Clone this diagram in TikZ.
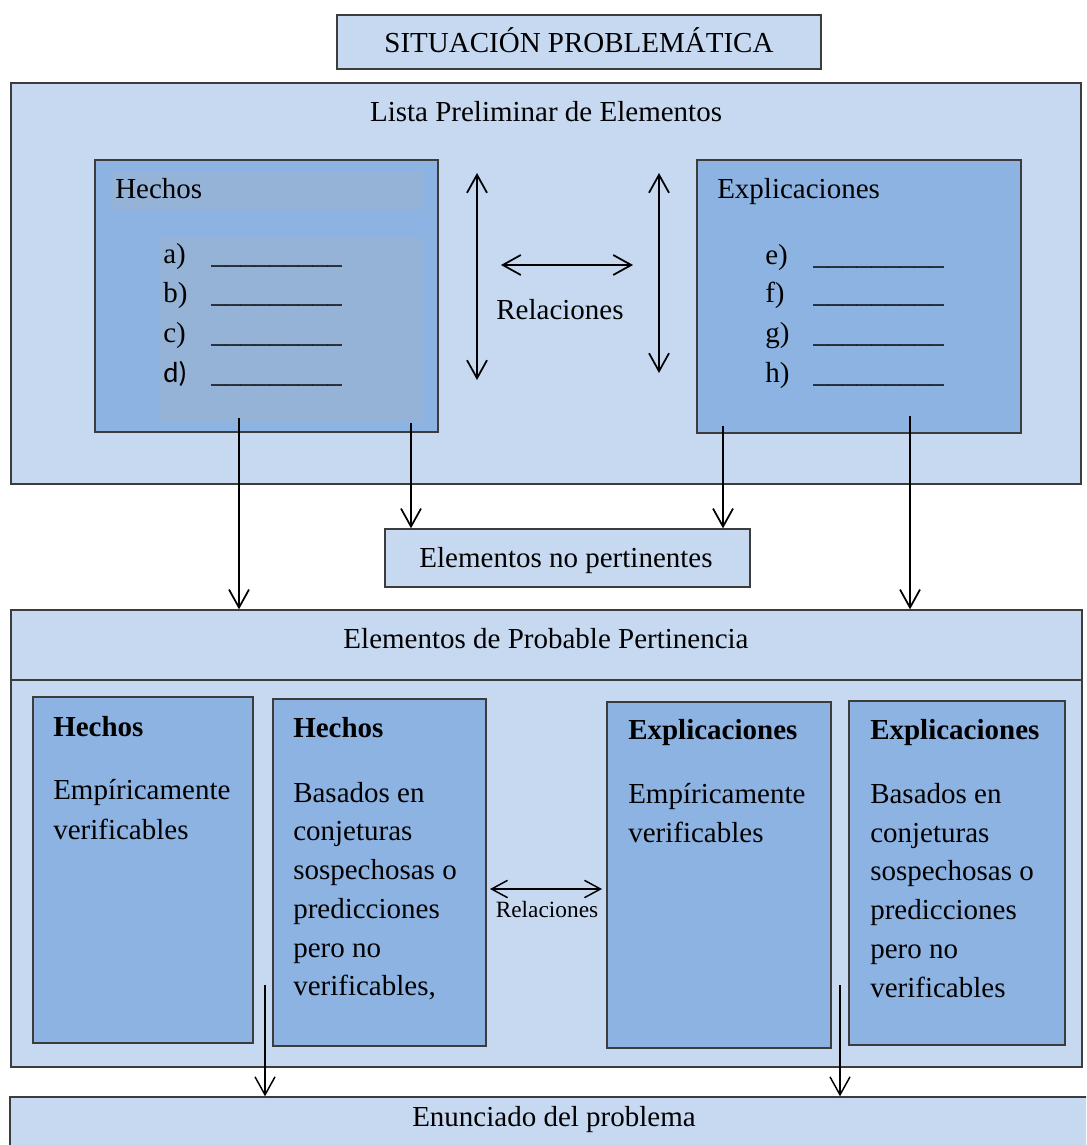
\documentclass[tikz,border=0pt]{standalone}
\usepackage{fontspec}
\setmainfont{Liberation Serif}
\newfontfamily\labelsans{Carlito}
\usetikzlibrary{arrows.meta,fit}

\definecolor{paleblue}{HTML}{C6D9F1}
\definecolor{midblue}{HTML}{8DB3E2}
\definecolor{greyblue}{HTML}{95B3D7}
\definecolor{edge}{HTML}{3C3C3C}

\tikzset{
  panel/.style={draw=edge, line width=1pt, fill=paleblue, inner sep=0pt},
  card/.style={draw=edge, line width=1pt, fill=midblue, inner sep=0pt},
  band/.style={fill=greyblue, inner sep=0pt},
  txt/.style={inner sep=0pt, font=\fontsize{21.75}{29.25}\selectfont},
  smalltxt/.style={inner sep=0pt, font=\fontsize{17.5}{21}\selectfont},
  barb/.tip={Straight Barb[length=13.5pt,width=15pt]},
  arr/.style={line width=1.3pt, -barb},
  darr/.style={line width=1.3pt, barb-barb},
  sarr/.style={line width=1.1pt, {Straight Barb[length=12pt,width=13pt]}-{Straight Barb[length=12pt,width=13pt]}},
}

\begin{document}
\begin{tikzpicture}[x=0.75pt,y=-0.75pt]
  \useasboundingbox (0,0) rectangle (1086,1145);
  \fill[white] (0,0) rectangle (1086,1145);
  \clip (0,0) rectangle (1086,1145);

  % ---- top title
  \node[panel, fit={(337,15) (821,69)}] (sit) {};
  \node[txt, anchor=base] (sittext) at (579,53) {SITUACIÓN PROBLEMÁTICA};

  % ---- preliminary list panel
  \node[panel, fit={(11,83) (1081,484)}] (lista) {};
  \node[txt, anchor=base] (listatext) at (546,122) {Lista Preliminar de Elementos};

  % facts card
  \node[card, fit={(95,160) (438,432)}] (hechos) {};
  \node[band, fit={(112,171) (423,210)}] (hband) {};
  \node[band, fit={(159,237) (423,422)}] (lband) {};
  \node[txt, anchor=base west] (htitle) at (115,198) {Hechos};
  \node[txt, anchor=base west] (la) at (163,263) {a)};
  \node[txt, anchor=base west] (lb) at (163,302) {b)};
  \node[txt, anchor=base west] (lc) at (163,342) {c)};
  \node[txt, anchor=base west] (ld) at (163,382) {\labelsans d)};
  \node[txt, anchor=base west] (ua) at (211,263) {\_\_\_\_\_\_\_\_\_};
  \node[txt, anchor=base west] (ub) at (211,302) {\_\_\_\_\_\_\_\_\_};
  \node[txt, anchor=base west] (uc) at (211,342) {\_\_\_\_\_\_\_\_\_};
  \node[txt, anchor=base west] (ud) at (211,382) {\_\_\_\_\_\_\_\_\_};

  % explanations card
  \node[card, fit={(697,160) (1021,433)}] (expl) {};
  \node[txt, anchor=base west] (etitle) at (717,198) {Explicaciones};
  \node[txt, anchor=base west] (le) at (765,264) {e)};
  \node[txt, anchor=base west] (lf) at (765,302) {f)};
  \node[txt, anchor=base west] (lg) at (765,342) {g)};
  \node[txt, anchor=base west] (lh) at (765,382) {h)};
  \node[txt, anchor=base west] (ue) at (813,264) {\_\_\_\_\_\_\_\_\_};
  \node[txt, anchor=base west] (uf) at (813,302) {\_\_\_\_\_\_\_\_\_};
  \node[txt, anchor=base west] (ug) at (813,342) {\_\_\_\_\_\_\_\_\_};
  \node[txt, anchor=base west] (uh) at (813,382) {\_\_\_\_\_\_\_\_\_};

  % relations between facts and explanations
  \coordinate (vl1) at (477,173);
  \coordinate (vl2) at (477,380);
  \coordinate (vr1) at (659,173);
  \coordinate (vr2) at (659,373);
  \coordinate (hr1) at (501,265);
  \coordinate (hr2) at (633,265);
  \draw[darr] (vl1) -- (vl2);
  \draw[darr] (vr1) -- (vr2);
  \draw[darr] (hr1) -- (hr2);
  \node[txt, anchor=base] (reltext) at (560,319) {Relaciones};

  % ---- not relevant elements
  \node[panel, fit={(385,529) (750,587)}] (nop) {};
  \node[txt, anchor=base] (noptext) at (566,567) {Elementos no pertinentes};

  % ---- probably relevant elements
  \node[panel, fit={(11,610) (1082,680)}] (epp) {};
  \node[txt, anchor=base] (epptext) at (546,648) {Elementos de Probable Pertinencia};
  \node[panel, fit={(11,680) (1082,1067)}] (eppbody) {};

  \node[card, fit={(33,697) (253,1043)}] (c1) {};
  \node[card, fit={(273,699) (486,1046)}] (c2) {};
  \node[card, fit={(607,702) (831,1048)}] (c3) {};
  \node[card, fit={(849,701) (1065,1045)}] (c4) {};

  \node[txt, anchor=base west, font=\fontsize{21.75}{29.25}\selectfont\bfseries] (c1t) at (53,736) {Hechos};
  \node[txt, anchor=base west] (c1a) at (53,799) {Empíricamente};
  \node[txt, anchor=base west] (c1b) at (53,839) {verificables};

  \node[txt, anchor=base west, font=\fontsize{21.75}{29.25}\selectfont\bfseries] (c2t) at (293,737) {Hechos};
  \node[txt, anchor=base west] (c2a) at (293,802) {Basados en};
  \node[txt, anchor=base west] (c2b) at (293,840) {conjeturas};
  \node[txt, anchor=base west] (c2c) at (293,879) {sospechosas o};
  \node[txt, anchor=base west] (c2d) at (293,918) {predicciones};
  \node[txt, anchor=base west] (c2e) at (293,957) {pero no};
  \node[txt, anchor=base west] (c2f) at (293,995) {verificables,};

  \node[txt, anchor=base west, font=\fontsize{21.75}{29.25}\selectfont\bfseries] (c3t) at (628,739) {Explicaciones};
  \node[txt, anchor=base west] (c3a) at (628,803) {Empíricamente};
  \node[txt, anchor=base west] (c3b) at (628,842) {verificables};

  \node[txt, anchor=base west, font=\fontsize{21.75}{29.25}\selectfont\bfseries] (c4t) at (870,739) {Explicaciones};
  \node[txt, anchor=base west] (c4a) at (870,803) {Basados en};
  \node[txt, anchor=base west] (c4b) at (870,842) {conjeturas};
  \node[txt, anchor=base west] (c4c) at (870,880) {sospechosas o};
  \node[txt, anchor=base west] (c4d) at (870,919) {predicciones};
  \node[txt, anchor=base west] (c4e) at (870,958) {pero no};
  \node[txt, anchor=base west] (c4f) at (870,997) {verificables};

  % relation between the two middle cards
  \coordinate (lr1) at (490,889);
  \coordinate (lr2) at (602,889);
  \draw[sarr] (lr1) -- (lr2);
  \node[smalltxt, anchor=base] (lreltext) at (547,917) {Relaciones};

  % ---- problem statement
  \node[panel, fit={(10,1097) (1100,1170)}] (enun) {};
  \node[txt, anchor=base] (enuntext) at (554,1126) {Enunciado del problema};

  % ---- flow arrows
  \coordinate (h1) at (239,418);
  \coordinate (h2) at (411,423);
  \coordinate (e1) at (723,426);
  \coordinate (e2) at (910,416);
  \draw[arr] (h1) -- (h1 |- epp.north);
  \draw[arr] (h2) -- (h2 |- nop.north);
  \draw[arr] (e1) -- (e1 |- nop.north);
  \draw[arr] (e2) -- (e2 |- epp.north);

  \coordinate (f1) at (265,985);
  \coordinate (f2) at (840,985);
  \draw[arr, line width=1.1pt] (f1) -- (f1 |- enun.north);
  \draw[arr, line width=1.1pt] (f2) -- (f2 |- enun.north);
\end{tikzpicture}
\end{document}
